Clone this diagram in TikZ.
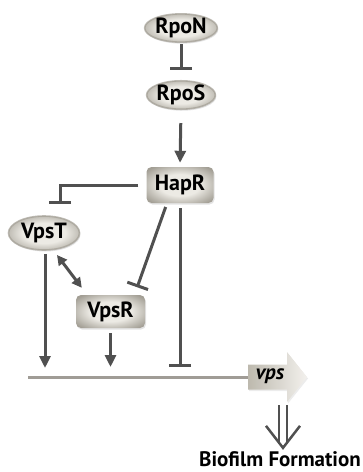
\documentclass[tikz,border=0pt]{standalone}
\usepackage{fontspec}
\setmainfont{PT Sans}
\usetikzlibrary{arrows.meta,shapes.geometric,shadows,calc}
\definecolor{ln}{HTML}{505050}
\definecolor{hl}{HTML}{A09C96}
\definecolor{inC}{HTML}{ECEAE4}
\definecolor{outC}{HTML}{A29E94}
\definecolor{arL}{HTML}{BDB9AE}
\definecolor{arR}{HTML}{F3F1ED}
\pgfdeclareradialshading{nodeshade}{\pgfpoint{0bp}{0bp}}{color(0bp)=(inC); color(15bp)=(inC); color(32bp)=(outC); color(50bp)=(outC)}
\begin{document}
\begin{tikzpicture}[x=1pt,y=-1pt,
  lbl/.style={font=\bfseries\fontsize{22}{22}\selectfont, text=black},
  ell/.style={ellipse, inner sep=0pt, shading=nodeshade, lbl, draw=outC, line width=1.6pt, draw opacity=0.7,
    drop shadow={opacity=0.22, shadow xshift=1pt, shadow yshift=-1.5pt}},
  boxn/.style={rectangle, rounded corners=5pt, inner sep=0pt, shading=nodeshade, lbl,
    drop shadow={opacity=0.22, shadow xshift=1pt, shadow yshift=-1.5pt}},
  act/.style={draw=ln, line width=3pt, -{Triangle[length=12pt,width=11pt]}},
  dact/.style={draw=ln, line width=3pt, {Triangle[length=10pt,width=10pt]}-{Triangle[length=10pt,width=10pt]}},
  inh/.style={draw=ln, line width=3pt, -{Bar[width=22pt]}},
]
\useasboundingbox (0,0) rectangle (363,472);

\node[ell, minimum width=68pt, minimum height=27pt] (RpoN) at (181,28) {RpoN};
\node[ell, minimum width=68pt, minimum height=27pt] (RpoS) at (181,95) {RpoS};
\node[boxn, minimum width=67pt, minimum height=36pt] (HapR) at (180,185) {HapR};
\node[ell, minimum width=71pt, minimum height=34pt] (VpsT) at (44,233) {VpsT};
\node[boxn, minimum width=69pt, minimum height=33pt] (VpsR) at (110.5,311.5) {VpsR};

\coordinate (L) at (28,377);
\coordinate (vpsw) at (248,377);
\shade[left color=arL, right color=arR, drop shadow={opacity=0.15, shadow xshift=1pt, shadow yshift=-1.5pt}]
  ([yshift=12.5pt]vpsw) -- ++(39,0) -- ++(0,-12.5) -- ++(20,25) -- ++(-20,25) -- ++(0,-12.5) -- ++(-39,0) -- cycle;
\node[font=\bfseries\itshape\fontsize{21}{21}\selectfont] (vps) at (270,376) {vps};

\node[font=\bfseries\fontsize{21}{21}\selectfont] (bio) at (280,459) {Biofilm Formation};

% connectors
\draw[inh, shorten <=1.5pt, shorten >=9.5pt] (RpoN.south) -- (RpoS.north);
\draw[act, shorten <=13pt, shorten >=4pt] (RpoS.south) -- (HapR.north);
\draw[inh, shorten <=8pt, shorten >=11pt] (HapR.west) -| ([xshift=16pt]VpsT.north);
\draw[inh, shorten <=4pt, shorten >=8pt] ([xshift=-13pt]HapR.south) -- ([xshift=24pt]VpsR.north);
\draw[inh, shorten <=5pt, shorten >=10pt] (HapR.south) -- (HapR.south |- L);
\draw[act, shorten <=3pt, shorten >=9pt] ([xshift=1pt]VpsT.south) -- ([xshift=1pt]VpsT.south |- L);
\draw[act, shorten <=5pt, shorten >=10pt] (VpsR.south) -- (VpsR.south |- L);
\draw[dact] ([shift={(13,22)}]VpsT.center) -- ([shift={(6,-7)}]VpsR.north west);
\draw[hl, line width=3pt] (L) -- (vpsw);

% double arrow to Biofilm Formation
\coordinate (dtop) at (283,405);
\coordinate (dtip) at (bio.north -| dtop);
\draw[ln, line width=2.5pt] ([xshift=-4pt]dtop) -- ([xshift=-4pt,yshift=5pt]dtip);
\draw[ln, line width=2.5pt] ([xshift=4pt]dtop) -- ([xshift=4pt,yshift=5pt]dtip);
\draw[ln, line width=2.5pt, line join=miter] ([shift={(-17,-22)}]dtip) -- (dtip) -- ([shift={(17,-22)}]dtip);
\end{tikzpicture}
\end{document}
